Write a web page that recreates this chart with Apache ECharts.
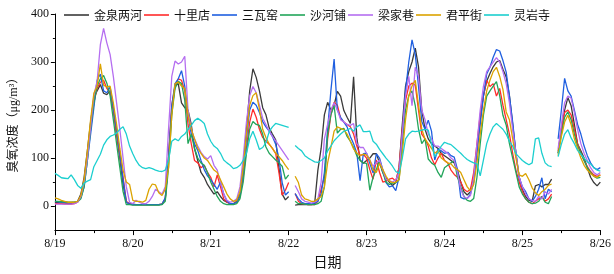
<!DOCTYPE html>
<html>
<head>
<meta charset="utf-8">
<script src="https://cdn.jsdelivr.net/npm/echarts@6/dist/echarts.min.js"></script>
<style>html,body{margin:0;padding:0;background:#fff}#c{width:614px;height:274px}</style>
</head>
<body>
<div id="c"></div>
<script>
// Hourly ozone concentration, 8/19 00:00 .. 8/26 00:00 (169 points, null = missing)
const dateLabels = ['8/19','8/20','8/21','8/22','8/23','8/24','8/25','8/26'];
const seriesNames = ['金泉两河','十里店','三瓦窑','沙河铺','梁家巷','君平街','灵岩寺'];

const jinquanLianghe = [
8,7,6,6,5,5, 6,10,25,60,115,175, 225,240,253,235,232,240, 200,150,100,45,8,5,
4,3,3,3,3,3, 3,3,3,4,15,100, 200,250,255,215,205,200, 170,120,95,70,60,45,
35,25,30,20,12,8, 5,5,10,25,80,160, 240,286,268,240,205,190, 163,150,138,80,25,13,
20,null,2,3,3,3, 3,3,5,75,120,190, 216,200,210,239,229,199, 185,172,269,142,96,89,
95,100,109,109,90,70, 58,50,43,49,80,170, 250,280,300,329,290,200, 160,140,130,125,120,110,
105,100,95,90,75,50, 30,23,30,60,120,180, 230,260,276,290,300,303, 285,269,230,170,110,60,
35,20,12,10,42,45, 40,45,45,56,null,110, 160,200,226,209,170,129, 115,100,80,60,49,42, 50];

const shilidian = [
5,5,5,4,4,4, 5,8,20,50,105,165, 215,245,258,262,245,236, 200,150,105,60,10,4,
3,3,3,3,3,3, 3,3,3,4,15,100, 210,250,265,262,240,170, 130,95,90,80,85,70,
60,40,65,40,15,8, 5,5,8,20,60,120, 175,202,185,160,143,135, 129,120,110,70,23,33,
49,null,26,10,5,4, 3,3,3,10,35,60, 140,190,216,210,183,175, 170,165,150,125,105,108,
100,76,56,96,70,50, 52,56,58,52,80,160, 220,250,256,252,200,150, 140,125,100,86,100,110,
95,90,75,66,60,50, 35,30,35,70,130,190, 230,262,249,255,229,245, 210,180,150,110,75,50,
30,15,8,5,10,15, 20,10,15,25,null,115, 160,195,200,190,160,130, 110,95,82,72,65,62, 65];

const sanwayao = [
10,9,8,8,7,7, 8,10,18,40,95,150, 205,262,275,240,236,248, 205,160,110,55,8,4,
3,3,3,3,3,3, 3,3,3,4,18,100, 210,255,265,282,250,190, 150,130,116,95,76,63,
55,45,35,50,25,10, 5,5,8,20,70,140, 200,216,210,195,176,165, 156,145,129,100,49,23,
30,null,26,15,8,5, 5,5,6,10,25,70, 160,240,306,200,185,175, 165,145,130,110,53,109,
110,89,69,109,100,76, 49,40,42,32,60,150, 240,300,346,316,249,176, 160,179,156,96,119,115,
110,112,105,102,76,18, 15,16,25,50,110,170, 230,275,289,310,326,323, 303,279,229,175,110,60,
40,30,15,10,20,35, 59,15,35,30,null,140, 200,266,240,229,200,170, 150,125,105,90,80,76, 80];

const shahepu = [
10,10,9,9,8,8, 8,9,15,40,95,160, 215,250,265,272,256,230, 180,130,80,30,3,3,
2,2,2,2,2,2, 2,2,2,3,10,80, 190,245,260,255,220,130, 150,120,100,90,85,70,
50,35,20,10,5,3, 3,3,5,15,50,110, 160,176,170,168,150,123, 110,103,96,90,83,56,
65,null,10,5,5,4, 3,3,3,5,10,40, 150,190,209,152,160,162, 145,135,122,105,95,90,
89,33,60,76,96,70, 50,45,48,49,55,130, 200,230,240,209,160,130, 140,98,90,85,70,60,
80,85,90,95,60,40, 20,12,10,16,60,130, 190,229,240,250,259,230, 189,169,130,100,70,40,
25,15,8,5,6,10, 20,8,5,20,null,110, 150,185,196,180,150,125, 110,95,80,70,62,58, 60];

const liangjiaxiang = [
4,4,4,4,4,4, 5,8,20,50,100,165, 230,260,336,370,340,316, 270,215,160,100,40,8,
5,12,8,5,5,10, 20,35,30,25,40,160, 270,302,296,300,312,200, 160,140,125,112,103,98,
105,85,75,50,25,12, 8,10,15,40,100,175, 230,249,236,210,183,170, 156,145,136,126,116,106,
96,null,43,30,15,10, 8,6,8,15,50,140, 170,200,215,200,180,175, 170,168,172,130,122,122,
110,96,83,90,96,75, 56,53,50,55,70,150, 230,270,209,289,270,200, 180,150,140,125,125,120,
115,110,100,95,70,35, 19,16,22,60,130,200, 250,280,290,300,309,300, 280,255,215,160,110,60,
40,25,15,12,10,20, 15,30,25,35,null,120, 170,215,229,225,195,160, 130,110,95,80,70,65, 70];

const junpingjie = [
17,15,12,10,8,8, 8,10,22,55,115,180, 235,250,296,252,248,250, 215,170,120,75,50,45,
12,10,10,8,12,35, 46,44,28,22,35,80, 190,255,258,250,245,190, 160,140,120,110,100,95,
85,75,70,55,40,25, 15,10,12,30,80,150, 210,230,236,202,160,143, 129,120,110,103,95,85,
76,null,62,49,23,15, 13,10,10,15,20,40, 90,122,156,165,162,159, 150,135,119,110,105,108,
106,96,75,70,89,76, 62,52,49,50,55,110, 180,230,250,262,210,160, 140,130,120,110,115,100,
95,90,88,80,76,70, 55,40,32,45,90,150, 200,240,262,280,289,270, 243,196,180,140,100,65,
62,68,55,38,28,22, 30,35,43,46,null,105, 145,175,189,170,140,120, 100,85,75,68,62,60, 65];

const lingyansi = [
68,64,59,58,57,65, 55,43,37,48,52,55, 82,95,108,127,138,145, 148,152,160,165,150,125,
109,95,85,80,78,80, 78,75,73,72,75,95, 135,140,136,145,150,160, 168,178,183,178,172,150,
135,125,120,110,96,90, 85,78,80,85,95,110, 140,156,138,118,122,132, 155,165,172,170,168,166,
164,null,126,120,115,105, 100,96,92,91,95,100, 115,125,136,143,150,156, 158,162,156,165,169,155,
155,156,135,129,118,109, 100,92,83,72,68,100, 140,150,156,155,156,158, 160,158,129,103,112,125,
133,130,128,122,116,110, 103,97,93,90,88,63, 96,130,150,165,172,166, 160,150,135,125,109,102,
95,90,86,90,140,142, 110,90,84,82,null,103, 129,150,159,142,130,116, 108,100,92,88,80,75, 73];

const allValues = [jinquanLianghe, shilidian, sanwayao, shahepu, liangjiaxiang, junpingjie, lingyansi];
const colors = ['#3a3a3a','#ff2b2b','#1f5fe0','#22a55a','#b56ef0','#dba300','#1ccfcf'];

const serifFont = "'Liberation Serif', 'Noto Sans CJK SC', serif";
const chart = echarts.init(document.getElementById('c'), null, {renderer:'canvas'});
chart.setOption({
  animation: false,
  backgroundColor: '#ffffff',
  color: colors,
  legend: {
    top: 4, left: 'center',
    icon: 'rect',
    itemWidth: 25, itemHeight: 1.6, itemGap: 2,
    textStyle: {fontSize: 12, color: '#111', fontFamily: "'Noto Sans CJK SC', sans-serif"},
    data: seriesNames
  },
  grid: {left: 43, right: 11, top: 14, bottom: 35},
  xAxis: {
    type: 'value', min: 0, max: 168, interval: 24,
    name: '日期', nameLocation: 'middle', nameGap: 20,
    nameTextStyle: {fontSize: 14, color: '#111', fontFamily: "'Noto Sans CJK SC', sans-serif"},
    axisLine: {onZero: false, lineStyle: {color: '#000', width: 1}},
    axisTick: {show: true, length: 5, lineStyle: {color: '#000'}},
    minorTick: {show: true, splitNumber: 2, length: 3, lineStyle: {color: '#000'}},
    splitLine: {show: false},
    axisLabel: {margin: 8, fontSize: 12, color: '#111', fontFamily: serifFont,
      formatter: v => dateLabels[Math.round(v / 24)]}
  },
  yAxis: [{
    type: 'value', min: -50, max: 400, interval: 50,
    name: '臭氧浓度（μg/m³）', nameLocation: 'middle', nameGap: 26,
    nameTextStyle: {fontSize: 12, color: '#111', fontFamily: serifFont},
    axisLine: {show: true, lineStyle: {color: '#000', width: 1}},
    axisTick: {show: true, length: 4, lineStyle: {color: '#000'}, customValues: [0,100,200,300,400]},
    splitLine: {show: false},
    axisLabel: {margin: 6, fontSize: 12, color: '#111', fontFamily: serifFont,
      customValues: [0,100,200,300,400]}
  }, {
    type: 'value', min: -50, max: 400, interval: 50, position: 'left',
    axisLine: {show: false},
    axisTick: {show: true, length: 2, lineStyle: {color: '#000'}, customValues: [50,150,250,350]},
    axisLabel: {show: false},
    splitLine: {show: false}
  }],
  series: seriesNames.map((n, k) => ({
    name: n, type: 'line', symbol: 'none', connectNulls: false,
    lineStyle: {width: 1.3, color: colors[k]},
    itemStyle: {color: colors[k]},
    data: allValues[k].map((v, i) => [i, v])
  }))
});
</script>
</body>
</html>
